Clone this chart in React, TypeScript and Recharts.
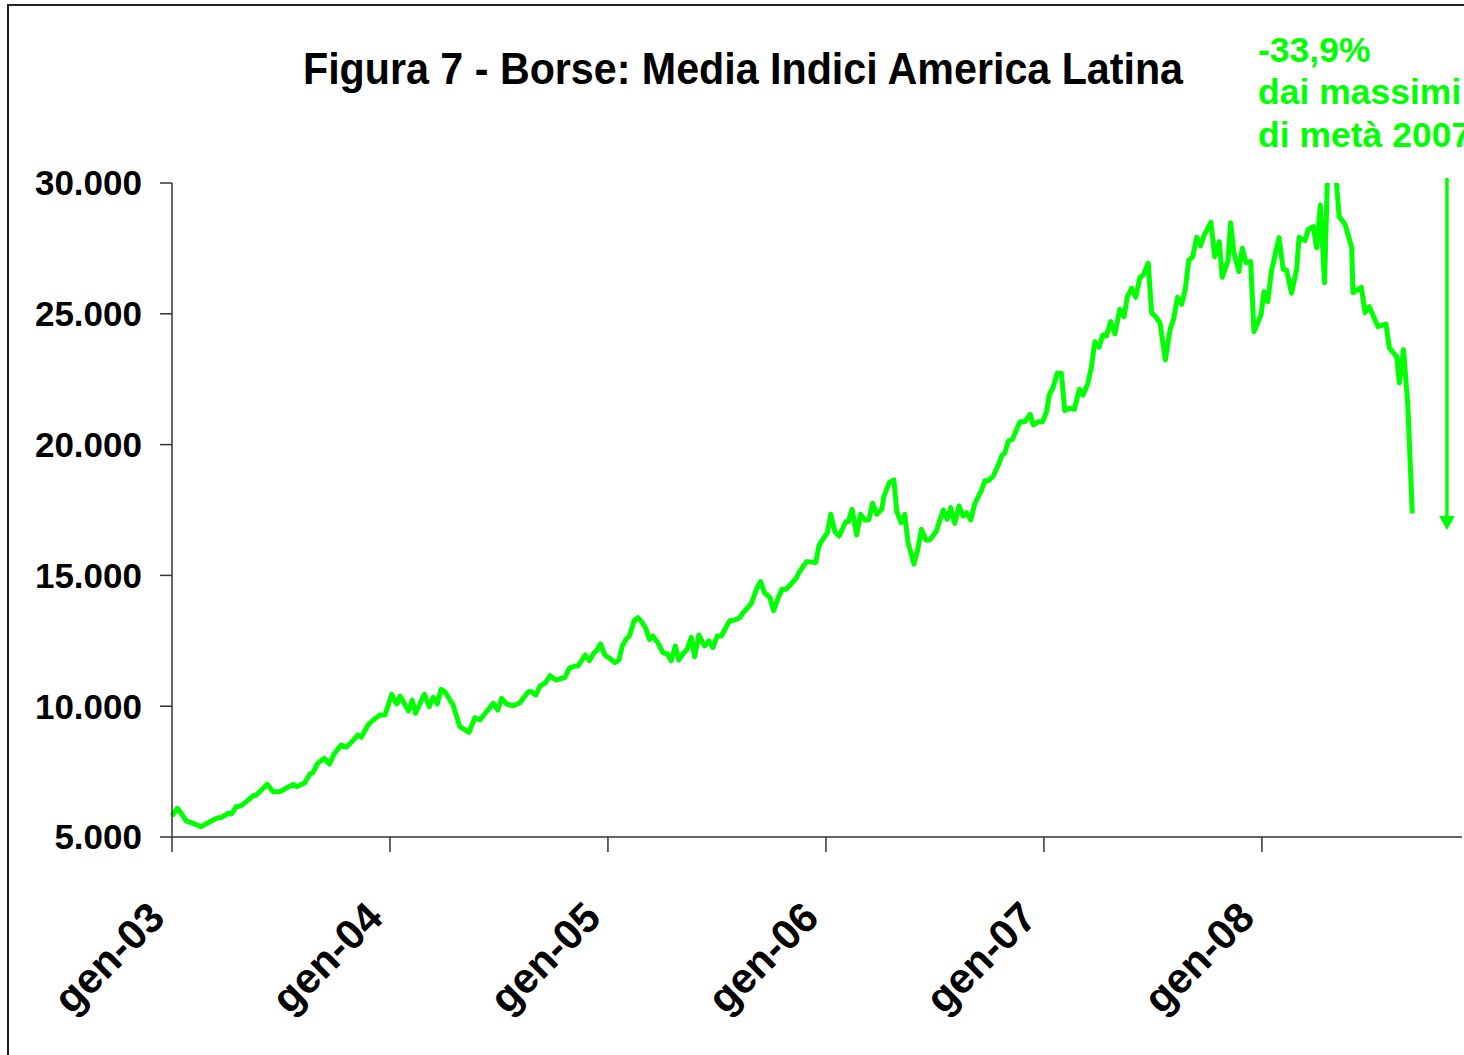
import React from 'react';
import { LineChart, Line, XAxis, YAxis, ReferenceLine } from 'recharts';

// Weekly average of Latin American stock indices, week 0 = early January 2003
const weeks = [
  0.0, 1.3, 2.2, 3.4, 4.6, 7.0, 9.4, 11.0, 11.8, 13.4, 14.2, 15.4, 16.6, 19.4, 20.2, 22.8, 24.2, 25.8, 29.0, 29.8,
  31.8, 33.0, 33.7, 34.9, 36.5, 37.7, 38.9, 40.5, 41.7, 43.3, 44.5, 45.3, 47.0, 48.2, 49.8, 51.0, 52.6, 53.8, 54.6, 56.6,
  57.5, 58.3, 60.4, 61.6, 62.5, 63.5, 64.4, 65.3, 67.3, 68.9, 71.1, 72.5, 73.7, 76.9, 78.0, 78.9, 80.1, 81.7, 83.3, 85.3,
  86.1, 87.1, 88.1, 89.3, 90.5, 91.9, 94.1, 95.1, 96.5, 97.2, 98.9, 99.9, 101.0, 101.6, 102.6, 103.6, 104.8, 106.0, 107.0, 107.8,
  108.7, 109.5, 110.6, 111.5, 112.6, 113.5, 114.3, 115.1, 116.3, 117.5, 118.6, 119.5, 120.5, 121.3, 122.3, 123.3, 124.3, 125.1, 126.1, 127.5,
  128.5, 129.5, 130.5, 131.5, 132.7, 133.5, 134.7, 135.9, 136.7, 137.9, 138.7, 139.9, 140.9, 141.9, 143.1, 144.0, 145.0, 146.0, 147.0, 148.2,
  149.4, 150.2, 151.9, 154.1, 154.9, 155.7, 156.9, 157.7, 158.7, 159.7, 161.3, 161.9, 162.8, 163.9, 164.8, 165.9, 166.8, 167.7, 168.7, 169.9,
  170.4, 171.7, 172.8, 173.5, 174.5, 175.4, 176.2, 177.6, 178.5, 179.4, 180.5, 181.4, 183.0, 184.6, 185.6, 186.4, 187.4, 188.4, 189.4, 190.2,
  191.2, 192.2, 193.8, 194.6, 195.4, 196.6, 197.8, 198.6, 199.4, 200.2, 201.2, 202.2, 203.0, 204.2, 205.4, 206.2, 207.3, 208.4, 209.4, 210.0,
  210.9, 211.9, 212.9, 213.7, 214.8, 216.0, 217.2, 218.1, 219.2, 220.1, 220.9, 221.9, 222.8, 223.7, 224.7, 225.7, 226.9, 227.9, 228.7, 229.7,
  230.7, 231.7, 232.5, 233.7, 234.5, 235.3, 236.5, 237.8, 238.9, 239.8, 240.7, 241.7, 242.6, 243.4, 244.3, 245.3, 246.2, 247.1, 248.7, 249.6,
  250.7, 251.4, 252.8, 253.4, 254.2, 255.4, 256.2, 257.1, 258.2, 259.0, 260.7, 261.4, 262.3, 263.2, 265.0, 266.0, 266.8, 268.0, 269.2, 269.8,
  271.2, 272.0, 273.2, 274.0, 274.9, 275.9, 276.6, 278.6, 279.4, 280.8, 282.4, 282.7, 284.7, 285.6, 286.6, 288.7, 290.6, 291.4, 293.2, 293.8,
  294.8, 295.8, 296.9,
];

const media = [
  5803, 6097, 5906, 5612, 5547, 5394, 5612, 5738, 5738, 5906, 5880, 6159, 6197, 6567, 6605, 7014, 6732, 6732, 7014, 6923,
  7076, 7408, 7460, 7817, 8008, 7790, 8199, 8517, 8428, 8681, 8899, 8811, 9300, 9472, 9664, 9664, 10455, 10084, 10390, 9816,
  10237, 9729, 10455, 9981, 10340, 10084, 10646, 10555, 10046, 9216, 9002, 9560, 9472, 10111, 9855, 10302, 10084, 10019, 10134, 10555,
  10555, 10428, 10772, 10875, 11166, 11001, 11104, 11449, 11537, 11537, 11957, 11739, 12045, 12110, 12378, 11957, 11831, 11662, 11766, 12301,
  12556, 12683, 13257, 13384, 13193, 12938, 12556, 12683, 12428, 12045, 11995, 11739, 12301, 11766, 11995, 12174, 12632, 11892, 12722, 12301,
  12492, 12237, 12683, 12683, 13039, 13269, 13295, 13384, 13575, 13780, 13933, 14468, 14759, 14316, 14163, 13651, 14086, 14468, 14468, 14671,
  14889, 15141, 15527, 15489, 16162, 16353, 16633, 17336, 16672, 16506, 17053, 17053, 17527, 16544, 17336, 17118, 17118, 17756, 17336, 17527,
  18011, 18546, 18647, 17437, 17016, 17336, 16251, 15436, 15971, 16762, 16353, 16353, 16697, 17500, 17144, 17589, 16990, 17653, 17271, 17397,
  17118, 17756, 18264, 18620, 18620, 18800, 19220, 19564, 19691, 20138, 20202, 20584, 20877, 20877, 21157, 20750, 20877, 20877, 21285, 21896,
  22177, 22724, 22724, 21300, 21387, 21348, 22112, 21896, 22317, 22980, 23935, 23720, 24190, 24152, 24699, 24228, 25171, 24890, 25655, 25974,
  25630, 26394, 26483, 26929, 25044, 24918, 24662, 23236, 24382, 24828, 25630, 25363, 25974, 27057, 27159, 27923, 27592, 28012, 28498, 27184,
  27757, 26394, 27030, 28483, 27337, 26611, 27503, 26954, 26993, 24317, 24955, 25846, 25464, 26649, 27910, 26700, 26674, 25783, 26674, 27923,
  27795, 28231, 28330, 27528, 29159, 26189, 30300, 30300, 28713, 28420, 27541, 25808, 26012, 25044, 25273, 24508, 24610, 23694, 23351, 22355,
  23630, 21591, 17374,
];

// one tick per January (52.18 weeks per year)
const xTicks = [0, 52.18, 104.36, 156.54, 208.72, 260.9];
const xTickLabels = ['gen-03', 'gen-04', 'gen-05', 'gen-06', 'gen-07', 'gen-08'];
const X_MAX = 308.8;

const yTicks = [5000, 10000, 15000, 20000, 25000, 30000];
const yTickLabels = ['5.000', '10.000', '15.000', '20.000', '25.000', '30.000'];

// arrow marking the fall from the 2007 highs
const arrowWeek = 305.2;
const arrowFrom = 30190;
const arrowTo = 16735;

const GREEN = '#00ff00';
const FONT = '"Liberation Sans", Arial, Helvetica, sans-serif';

const data = weeks.map((w, i) => ({ w, media: media[i] }));

const XTick = ({ x, y, index }: any) => {
  const ax = x - 5;
  const ay = y + 66;
  return (
    <text
      x={ax}
      y={ay}
      transform={`rotate(-45, ${ax}, ${ay})`}
      textAnchor="end"
      fontFamily={FONT}
      fontWeight="bold"
      fontSize={42}
      fill="#000"
    >
      {xTickLabels[index]}
    </text>
  );
};

const YTick = ({ x, y, payload }: any) => {
  const i = yTicks.indexOf(payload.value);
  return (
    <text x={x} y={y} dy="0.355em" textAnchor="end" fontFamily={FONT} fontWeight="bold" fontSize={35} fill="#000">
      {yTickLabels[i]}
    </text>
  );
};

const Arrow = (props: any) => {
  const { x1, y1, x2, y2 } = props;
  const head = 14;
  return (
    <g>
      <line x1={x1} y1={y1} x2={x2} y2={y2 - head} stroke={GREEN} strokeWidth={3.5} />
      <polygon points={`${x2 - 8},${y2 - head} ${x2 + 8},${y2 - head} ${x2},${y2}`} fill={GREEN} />
    </g>
  );
};

export default function App() {
  return (
    <div style={{ position: 'relative', width: 1464, height: 1055, background: '#fff', overflow: 'hidden' }}>
      <style>{'body{margin:0}'}</style>
      <div
        style={{
          position: 'absolute',
          left: 7,
          top: 4,
          width: 1500,
          height: 1100,
          borderLeft: '2px solid #222',
          borderTop: '2px solid #222',
          boxSizing: 'border-box',
        }}
      />
      <svg style={{ position: 'absolute', left: 0, top: 0 }} width={1464} height={1055}>
        <text
          x={743}
          y={84}
          textAnchor="middle"
          fontFamily={FONT}
          fontWeight="bold"
          fontSize={45}
          textLength={880}
          lengthAdjust="spacingAndGlyphs"
          fill="#000"
        >
          Figura 7 - Borse: Media Indici America Latina
        </text>
        <g fontFamily={FONT} fontWeight="bold" fontSize={35.5} fill={GREEN}>
          <text x={1258} y={62}>-33,9%</text>
          <text x={1258} y={104}>dai massimi</text>
          <text x={1258} y={147}>di metà 2007</text>
        </g>
      </svg>
      <div style={{ position: 'absolute', left: 0, top: 0 }}>
        <LineChart width={1464} height={1055} data={data} margin={{ top: 183, right: 2, bottom: 18, left: 0 }}>
          <XAxis
            dataKey="w"
            type="number"
            domain={[0, X_MAX]}
            ticks={xTicks}
            interval={0}
            tick={<XTick />}
            tickSize={15}
            height={200}
            axisLine={{ stroke: '#333', strokeWidth: 1.5 }}
            tickLine={{ stroke: '#333', strokeWidth: 1.5 }}
          />
          <YAxis
            type="number"
            domain={[5000, 30000]}
            allowDataOverflow
            ticks={yTicks}
            interval={0}
            width={172}
            tickSize={12}
            tickMargin={18}
            tick={<YTick />}
            axisLine={{ stroke: '#333', strokeWidth: 1.5 }}
            tickLine={{ stroke: '#333', strokeWidth: 1.5 }}
          />
          <Line
            dataKey="media"
            type="linear"
            stroke={GREEN}
            strokeWidth={5}
            strokeLinejoin="round"
            dot={false}
            activeDot={false}
            isAnimationActive={false}
          />
          <ReferenceLine
            segment={[
              { x: arrowWeek, y: arrowFrom },
              { x: arrowWeek, y: arrowTo },
            ]}
            ifOverflow="visible"
            shape={<Arrow />}
          />
        </LineChart>
      </div>
    </div>
  );
}
